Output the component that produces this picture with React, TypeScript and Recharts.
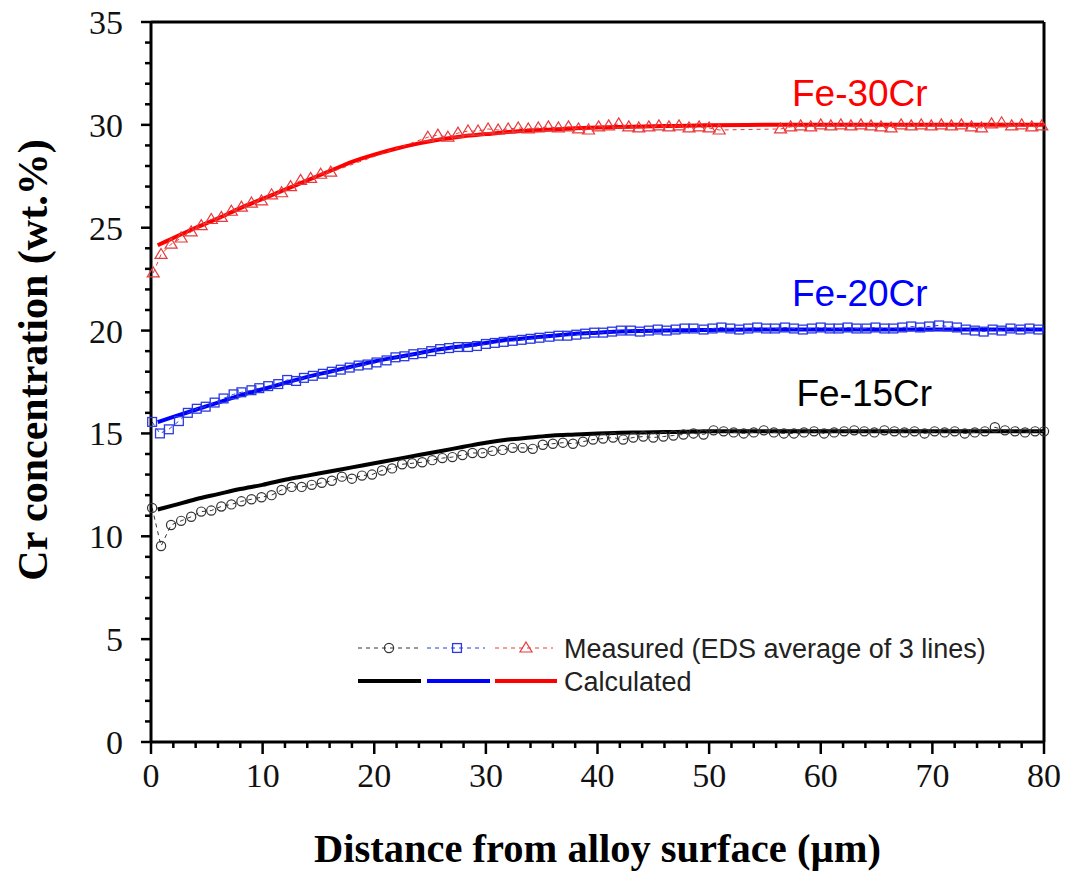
import React from "react";
import { LineChart, Line, XAxis, YAxis, ReferenceLine, ReferenceDot, Legend } from "recharts";

// measured EDS profiles (distance in µm, Cr in wt.%)
const fe15MeasX = [
  0.1, 0.9, 1.8, 2.7, 3.6, 4.5, 5.4, 6.3, 7.2, 8.1, 9.0, 9.9, 10.8, 11.7, 12.6, 13.5, 14.4, 15.3, 16.2, 17.1,
  18.0, 18.9, 19.8, 20.7, 21.6, 22.5, 23.4, 24.3, 25.2, 26.1, 27.0, 27.9, 28.8, 29.7, 30.6, 31.5, 32.4, 33.3, 34.2, 35.1,
  36.0, 36.9, 37.8, 38.7, 39.6, 40.5, 41.4, 42.3, 43.2, 44.1, 45.0, 45.9, 46.8, 47.7, 48.6, 49.5, 50.4, 51.3, 52.2, 53.1,
  54.0, 54.9, 55.8, 56.7, 57.6, 58.5, 59.4, 60.3, 61.2, 62.1, 63.0, 63.9, 64.8, 65.7, 66.6, 67.5, 68.4, 69.3, 70.2, 71.1,
  72.0, 72.9, 73.8, 74.7, 75.6, 76.5, 77.4, 78.3, 79.2, 80.0,
];
const fe15MeasY = [
  11.38, 9.53, 10.55, 10.75, 10.95, 11.2, 11.25, 11.45, 11.55, 11.7, 11.8, 11.9, 12.0, 12.25, 12.4, 12.4, 12.5, 12.6, 12.7, 12.9,
  12.8, 12.95, 13.0, 13.2, 13.3, 13.5, 13.55, 13.6, 13.7, 13.8, 13.85, 13.95, 14.05, 14.05, 14.15, 14.2, 14.3, 14.3, 14.25, 14.45,
  14.5, 14.55, 14.5, 14.6, 14.7, 14.75, 14.8, 14.7, 14.8, 14.85, 14.8, 14.85, 14.9, 14.95, 15.0, 14.95, 15.15, 15.1, 15.05, 15.0,
  15.05, 15.15, 15.05, 15.0, 15.0, 15.05, 15.1, 15.0, 15.05, 15.1, 15.15, 15.1, 15.05, 15.15, 15.1, 15.05, 15.1, 15.0, 15.1, 15.05,
  15.1, 15.0, 15.05, 15.1, 15.3, 15.15, 15.1, 15.05, 15.1, 15.1,
];

const fe20MeasX = [
  0.1, 0.8, 1.6, 2.5, 3.3, 4.1, 4.9, 5.7, 6.5, 7.4, 8.1, 9.0, 9.7, 10.5, 11.4, 12.2, 13.0, 13.7, 14.5, 15.4,
  16.2, 17.0, 17.8, 18.6, 19.4, 20.2, 21.1, 21.9, 22.7, 23.5, 24.3, 25.1, 25.9, 26.7, 27.5, 28.4, 29.2, 30.0,
  30.8, 31.6, 32.4, 33.2, 34.0, 34.8, 35.7, 36.5, 37.3, 38.1, 38.9, 39.7, 40.5, 41.3, 42.1, 43.0, 43.8, 44.6, 45.4, 46.2,
  47.0, 47.8, 48.6, 49.5, 50.3, 51.1, 51.9, 52.7, 53.5, 54.3, 55.1, 55.9, 56.8, 57.6, 58.4, 59.2, 60.0, 60.8, 61.6, 62.4,
  63.2, 64.1, 64.9, 65.7, 66.5, 67.3, 68.1, 68.9, 69.7, 70.6, 71.4, 72.2, 73.0, 73.8, 74.6, 75.4, 76.2, 77.0, 77.9, 78.7, 79.5,
];
const fe20MeasY = [
  15.56, 15.0, 15.2, 15.6, 16.0, 16.2, 16.3, 16.5, 16.7, 16.9, 17.0, 17.1, 17.2, 17.3, 17.4, 17.6, 17.55, 17.7, 17.8, 17.9,
  18.0, 18.1, 18.2, 18.3, 18.35, 18.45, 18.55, 18.7, 18.75, 18.85, 18.9, 19.0, 19.1, 19.15, 19.2, 19.2, 19.25, 19.35,
  19.4, 19.45, 19.5, 19.55, 19.6, 19.65, 19.7, 19.75, 19.75, 19.8, 19.85, 19.9, 19.9, 19.95, 20.0, 20.0, 19.95, 20.0, 20.05, 20.0,
  20.05, 20.1, 20.1, 20.05, 20.1, 20.15, 20.1, 20.05, 20.1, 20.15, 20.1, 20.1, 20.15, 20.1, 20.05, 20.1, 20.15, 20.1, 20.1, 20.15,
  20.1, 20.1, 20.15, 20.1, 20.1, 20.15, 20.2, 20.15, 20.2, 20.25, 20.2, 20.15, 20.05, 20.0, 19.95, 20.05, 20.0, 20.1, 20.05, 20.1, 20.05,
];

const fe30MeasX = [
  0.2, 0.9, 1.8, 2.7, 3.6, 4.5, 5.4, 6.3, 7.2, 8.1, 9.0, 9.9, 10.8, 11.7, 12.5, 13.4, 14.3, 15.2, 16.1,
  24.8, 25.7, 26.6, 27.5, 28.4, 29.3, 30.2, 31.1, 32.0, 32.9, 33.8, 34.7, 35.6, 36.5, 37.4, 38.3, 39.2, 40.1, 41.0, 41.9,
  42.8, 43.7, 44.6, 45.5, 46.4, 47.3, 48.2, 49.1, 50.0, 50.9,
  56.4, 57.3, 58.2, 59.1, 60.0, 60.9, 61.8, 62.7, 63.6, 64.5, 65.4, 66.3, 67.2, 68.1, 69.0, 69.9, 70.8, 71.7, 72.6, 73.5,
  74.4, 75.3, 76.2, 77.1, 78.0, 78.9, 79.8,
];
const fe30MeasY = [
  22.8, 23.7, 24.2, 24.5, 24.8, 25.1, 25.4, 25.5, 25.8, 26.0, 26.2, 26.3, 26.6, 26.7, 27.0, 27.3, 27.4, 27.6, 27.7,
  29.4, 29.5, 29.4, 29.6, 29.7, 29.7, 29.8, 29.75, 29.8, 29.85, 29.8, 29.85, 29.9, 29.85, 29.9, 29.8, 29.75, 29.9, 29.95, 30.05,
  29.9, 29.85, 29.9, 29.95, 29.9, 29.95, 29.85, 29.9, 29.85, 29.75,
  29.8, 29.9, 29.95, 29.9, 30.0, 29.95, 30.0, 29.95, 30.0, 29.95, 29.9, 29.85, 30.0, 29.95, 30.0, 29.95, 30.0, 29.95, 30.0, 29.9,
  29.85, 30.05, 30.1, 29.95, 30.0, 29.9, 29.95,
];

// calculated diffusion profiles
const calcX = [0.6, 2, 4, 6, 8, 10, 12, 14, 16, 18, 20, 22, 24, 26, 28, 30, 32, 34, 36, 38, 40, 42, 44, 46, 48, 50, 55, 60, 65, 70, 75, 80];
const fe15Calc = [11.3, 11.5, 11.8, 12.05, 12.3, 12.5, 12.75, 12.95, 13.15, 13.35, 13.55, 13.75, 13.95, 14.15, 14.35, 14.55, 14.7, 14.8, 14.9, 14.95, 15.0, 15.03, 15.05, 15.07, 15.08, 15.1, 15.1, 15.1, 15.1, 15.1, 15.1, 15.1];
const fe20Calc = [15.55, 15.8, 16.15, 16.5, 16.85, 17.15, 17.45, 17.75, 18.0, 18.25, 18.5, 18.7, 18.9, 19.1, 19.25, 19.4, 19.55, 19.65, 19.75, 19.85, 19.9, 19.95, 19.98, 20.0, 20.02, 20.03, 20.05, 20.05, 20.05, 20.05, 20.05, 20.05];
const fe30Calc = [24.15, 24.5, 25.0, 25.45, 25.95, 26.4, 26.85, 27.3, 27.75, 28.2, 28.55, 28.85, 29.1, 29.3, 29.45, 29.55, 29.65, 29.72, 29.78, 29.83, 29.87, 29.9, 29.92, 29.94, 29.96, 29.98, 30.0, 30.0, 30.0, 30.0, 30.0, 30.0];

const yMajor = [0, 5, 10, 15, 20, 25, 30, 35];
const xMajor = [0, 10, 20, 30, 40, 50, 60, 70, 80];
const yTicks = Array.from({ length: 36 }, (_, i) => i);
const xTicks = Array.from({ length: 41 }, (_, i) => i * 2);

const pts = (xs: number[], ys: number[]) => xs.map((x, i) => ({ x, y: ys[i] }));

const SERIF = "'Liberation Serif', 'Times New Roman', serif";
const SANS = "'Liberation Sans', Arial, sans-serif";

const BLACK_MK = "#333";
const BLUE_MK = "#2a3ae0";
const RED_MK = "#e83a3a";

const circleAt = (cx: number, cy: number, key?: any) => (
  <circle key={key} cx={cx} cy={cy} r={4.6} fill="none" stroke={BLACK_MK} strokeWidth={1.2} />
);
const squareAt = (cx: number, cy: number, key?: any) => (
  <rect key={key} x={cx - 4.4} y={cy - 4.4} width={8.8} height={8.8} fill="none" stroke={BLUE_MK} strokeWidth={1.3} />
);
const triAt = (cx: number, cy: number, key?: any) => (
  <path key={key} d={`M${cx},${cy - 6}L${cx + 6},${cy + 4}L${cx - 6},${cy + 4}Z`} fill="none" stroke={RED_MK} strokeWidth={1.2} />
);

const YTick = (props: any) => {
  const { x, y, payload } = props;
  const major = yMajor.includes(payload.value);
  return (
    <g>
      <line x1={x - (major ? 10 : 6)} x2={x} y1={y} y2={y} stroke="#000" strokeWidth={2.5} />
      {major && (
        <text x={x - 28} y={y + 12} textAnchor="end" fontSize={34} fontFamily={SERIF} fill="#111">
          {payload.value}
        </text>
      )}
    </g>
  );
};

const XTick = (props: any) => {
  const { x, y, payload } = props;
  const major = xMajor.includes(payload.value);
  return (
    <g>
      <line x1={x} x2={x} y1={y} y2={y + (major ? 12 : 6)} stroke="#000" strokeWidth={2.5} />
      {major && (
        <text x={x} y={y + 45} textAnchor="middle" fontSize={34} fontFamily={SERIF} fill="#111">
          {payload.value}
        </text>
      )}
    </g>
  );
};

const XTitle = (props: any) => {
  const { x, y, width } = props.viewBox;
  return (
    <text x={x + width / 2} y={y + 120} textAnchor="middle" fontSize={40.5} fontWeight="bold" fontFamily={SERIF} fill="#000">
      Distance from alloy surface (µm)
    </text>
  );
};

const YTitle = (props: any) => {
  const { y, height } = props.viewBox;
  const cy = y + height / 2 - 22;
  return (
    <text x={47} y={cy} transform={`rotate(-90, 47, ${cy})`} textAnchor="middle" fontSize={42} fontWeight="bold" fontFamily={SERIF} fill="#000">
      Cr concentration (wt.%)
    </text>
  );
};

const LegendBox = () => (
  <svg width={680} height={70}>
    <line x1={8} x2={70} y1={18} y2={18} stroke={BLACK_MK} strokeWidth={1} strokeDasharray="4 4" />
    {circleAt(39, 18)}
    <line x1={77} x2={135} y1={18} y2={18} stroke={BLUE_MK} strokeWidth={1} strokeDasharray="4 4" />
    {squareAt(107, 18)}
    <line x1={145} x2={203} y1={18} y2={18} stroke={RED_MK} strokeWidth={1} strokeDasharray="4 4" />
    {triAt(176, 18)}
    <text x={214} y={27.5} fontSize={27} fontFamily={SANS} fill="#222">
      Measured (EDS average of 3 lines)
    </text>
    <line x1={8} x2={71} y1={51} y2={51} stroke="#000" strokeWidth={4} />
    <line x1={77} x2={140} y1={51} y2={51} stroke="#0000ff" strokeWidth={4} />
    <line x1={145} x2={207} y1={51} y2={51} stroke="#ff0000" strokeWidth={4} />
    <text x={214} y={60.5} fontSize={27} fontFamily={SANS} fill="#222">
      Calculated
    </text>
  </svg>
);

const seriesLabel = (text: string, color: string) => ({
  value: text,
  position: "center" as const,
  fill: color,
  fontSize: 37,
  fontFamily: SANS,
});

export default function App() {
  return (
    <div style={{ position: "absolute", left: 0, top: 0, background: "#fff" }}>
      <LineChart width={1065} height={873} margin={{ top: 22, right: 21, bottom: 71, left: 0 }}>
        <XAxis
          type="number"
          dataKey="x"
          domain={[0, 80]}
          ticks={xTicks}
          interval={0}
          tickSize={0}
          tickMargin={0}
          tickLine={false}
          tick={<XTick />}
          height={60}
          axisLine={{ stroke: "#000", strokeWidth: 3 }}
          label={<XTitle />}
        />
        <YAxis
          type="number"
          domain={[0, 35]}
          ticks={yTicks}
          interval={0}
          tickSize={0}
          tickMargin={0}
          tickLine={false}
          tick={<YTick />}
          width={151}
          axisLine={{ stroke: "#000", strokeWidth: 3 }}
          label={<YTitle />}
        />
        <ReferenceLine y={35} stroke="#000" strokeWidth={3} />
        <ReferenceLine x={80} stroke="#000" strokeWidth={3} />

        <Line data={pts(calcX, fe15Calc)} dataKey="y" type="monotone" stroke="#000" strokeWidth={4} dot={false} activeDot={false} isAnimationActive={false} />
        <Line data={pts(calcX, fe20Calc)} dataKey="y" type="monotone" stroke="#0000ff" strokeWidth={4} dot={false} activeDot={false} isAnimationActive={false} />
        <Line data={pts(calcX, fe30Calc)} dataKey="y" type="monotone" stroke="#ff0000" strokeWidth={4} dot={false} activeDot={false} isAnimationActive={false} />

        <Line
          data={pts(fe15MeasX, fe15MeasY)}
          dataKey="y"
          type="linear"
          stroke={BLACK_MK}
          strokeWidth={1}
          strokeDasharray="4 4"
          dot={(p: any) => circleAt(p.cx, p.cy, `c${p.index}`)}
          activeDot={false}
          isAnimationActive={false}
        />
        <Line
          data={pts(fe20MeasX, fe20MeasY)}
          dataKey="y"
          type="linear"
          stroke={BLUE_MK}
          strokeWidth={1}
          strokeDasharray="4 4"
          dot={(p: any) => squareAt(p.cx, p.cy, `s${p.index}`)}
          activeDot={false}
          isAnimationActive={false}
        />
        <Line
          data={pts(fe30MeasX, fe30MeasY)}
          dataKey="y"
          type="linear"
          stroke={RED_MK}
          strokeWidth={1}
          strokeDasharray="4 4"
          dot={(p: any) => triAt(p.cx, p.cy, `t${p.index}`)}
          activeDot={false}
          isAnimationActive={false}
        />

        <ReferenceDot x={63.5} y={31.55} r={1} fill="none" stroke="none" label={seriesLabel("Fe-30Cr", "#ff0000")} />
        <ReferenceDot x={63.5} y={21.83} r={1} fill="none" stroke="none" label={seriesLabel("Fe-20Cr", "#0000ff")} />
        <ReferenceDot x={63.9} y={16.97} r={1} fill="none" stroke="none" label={seriesLabel("Fe-15Cr", "#000")} />

        <Legend
          layout="horizontal"
          verticalAlign="middle"
          align="center"
          content={<LegendBox />}
          wrapperStyle={{ position: "absolute", left: 350, top: 630, width: 680, height: 70 }}
        />
      </LineChart>
    </div>
  );
}
